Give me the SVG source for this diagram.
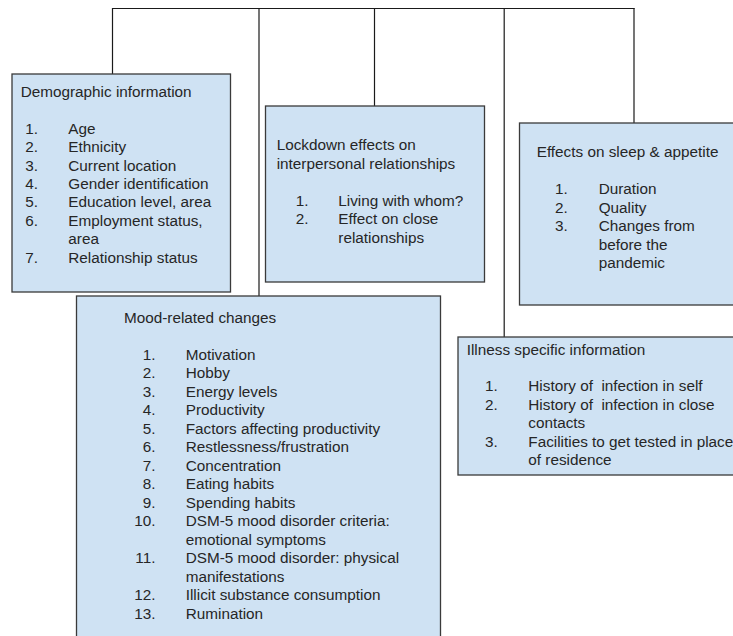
<svg xmlns="http://www.w3.org/2000/svg" width="733" height="636" viewBox="0 0 733 636">
<style>
.box{fill:#cfe2f3;stroke:#3a3a3a;stroke-width:1.3}
.ln{stroke:#1a1a1a;stroke-width:1.2;fill:none}
text{font-family:"Liberation Sans",Arial,sans-serif;font-size:15.3px;fill:#262626}
.n{text-anchor:end}
.pre{white-space:pre}
</style>
<rect x="0" y="0" width="733" height="636" fill="#ffffff"/>
<g id="connectors">
<path class="ln" d="M112 8.5H634.5"/>
<path class="ln" d="M112.5 8V74"/>
<path class="ln" d="M259 8V296"/>
<path class="ln" d="M374.5 8V106"/>
<path class="ln" d="M504.2 8V337"/>
<path class="ln" d="M634 8V123"/>
</g>
<g id="demographic">
<rect class="box" x="12" y="74" width="218.5" height="218"/>
<text x="20.7" y="97">Demographic information</text>
<text class="n" x="38" y="133.7">1.</text><text x="68.3" y="133.7">Age</text>
<text class="n" x="38" y="152.1">2.</text><text x="68.3" y="152.1">Ethnicity</text>
<text class="n" x="38" y="170.5">3.</text><text x="68.3" y="170.5">Current location</text>
<text class="n" x="38" y="188.9">4.</text><text x="68.3" y="188.9">Gender identification</text>
<text class="n" x="38" y="207.3">5.</text><text x="68.3" y="207.3">Education level, area</text>
<text class="n" x="38" y="225.7">6.</text><text x="68.3" y="225.7">Employment status,</text>
<text x="68.3" y="244.1">area</text>
<text class="n" x="38" y="262.5">7.</text><text x="68.3" y="262.5">Relationship status</text>
</g>
<g id="lockdown">
<rect class="box" x="265.5" y="106" width="219" height="176"/>
<text x="276.7" y="150.4">Lockdown effects on</text>
<text x="276.7" y="168.8">interpersonal relationships</text>
<text class="n" x="308.5" y="206">1.</text><text x="338.3" y="206">Living with whom?</text>
<text class="n" x="308.5" y="224.4">2.</text><text x="338.3" y="224.4">Effect on close</text>
<text x="338.3" y="242.8">relationships</text>
</g>
<g id="sleep">
<rect class="box" x="519.5" y="123" width="240" height="182"/>
<text x="536.7" y="157">Effects on sleep &amp; appetite</text>
<text class="n" x="567.8" y="194.4">1.</text><text x="598.7" y="194.4">Duration</text>
<text class="n" x="567.8" y="212.8">2.</text><text x="598.7" y="212.8">Quality</text>
<text class="n" x="567.8" y="231.2">3.</text><text x="598.7" y="231.2">Changes from</text>
<text x="598.7" y="249.6">before the</text>
<text x="598.7" y="268">pandemic</text>
</g>
<g id="mood">
<rect class="box" x="76.5" y="296" width="364" height="360"/>
<text x="124" y="322.5">Mood-related changes</text>
<text class="n" x="155.5" y="359.5">1.</text><text x="185.7" y="359.5">Motivation</text>
<text class="n" x="155.5" y="378">2.</text><text x="185.7" y="378">Hobby</text>
<text class="n" x="155.5" y="396.5">3.</text><text x="185.7" y="396.5">Energy levels</text>
<text class="n" x="155.5" y="415">4.</text><text x="185.7" y="415">Productivity</text>
<text class="n" x="155.5" y="433.5">5.</text><text x="185.7" y="433.5">Factors affecting productivity</text>
<text class="n" x="155.5" y="452">6.</text><text x="185.7" y="452">Restlessness/frustration</text>
<text class="n" x="155.5" y="470.5">7.</text><text x="185.7" y="470.5">Concentration</text>
<text class="n" x="155.5" y="489">8.</text><text x="185.7" y="489">Eating habits</text>
<text class="n" x="155.5" y="507.5">9.</text><text x="185.7" y="507.5">Spending habits</text>
<text class="n" x="155.5" y="526">10.</text><text x="185.7" y="526">DSM-5 mood disorder criteria:</text>
<text x="185.7" y="544.5">emotional symptoms</text>
<text class="n" x="155.5" y="563">11.</text><text x="185.7" y="563">DSM-5 mood disorder: physical</text>
<text x="185.7" y="581.5">manifestations</text>
<text class="n" x="155.5" y="600">12.</text><text x="185.7" y="600">Illicit substance consumption</text>
<text class="n" x="155.5" y="618.5">13.</text><text x="185.7" y="618.5">Rumination</text>
</g>
<g id="illness">
<rect class="box" x="458" y="337" width="300" height="138"/>
<text x="466.7" y="354.7">Illness specific information</text>
<text class="n" x="497.8" y="391.4">1.</text><text class="pre" x="528.3" y="391.4">History of  infection in self</text>
<text class="n" x="497.8" y="409.9">2.</text><text class="pre" x="528.3" y="409.9">History of  infection in close</text>
<text x="528.3" y="428.4">contacts</text>
<text class="n" x="497.8" y="446.9">3.</text><text x="528.3" y="446.9">Facilities to get tested in place</text>
<text x="528.3" y="465.4">of residence</text>
</g>
</svg>
